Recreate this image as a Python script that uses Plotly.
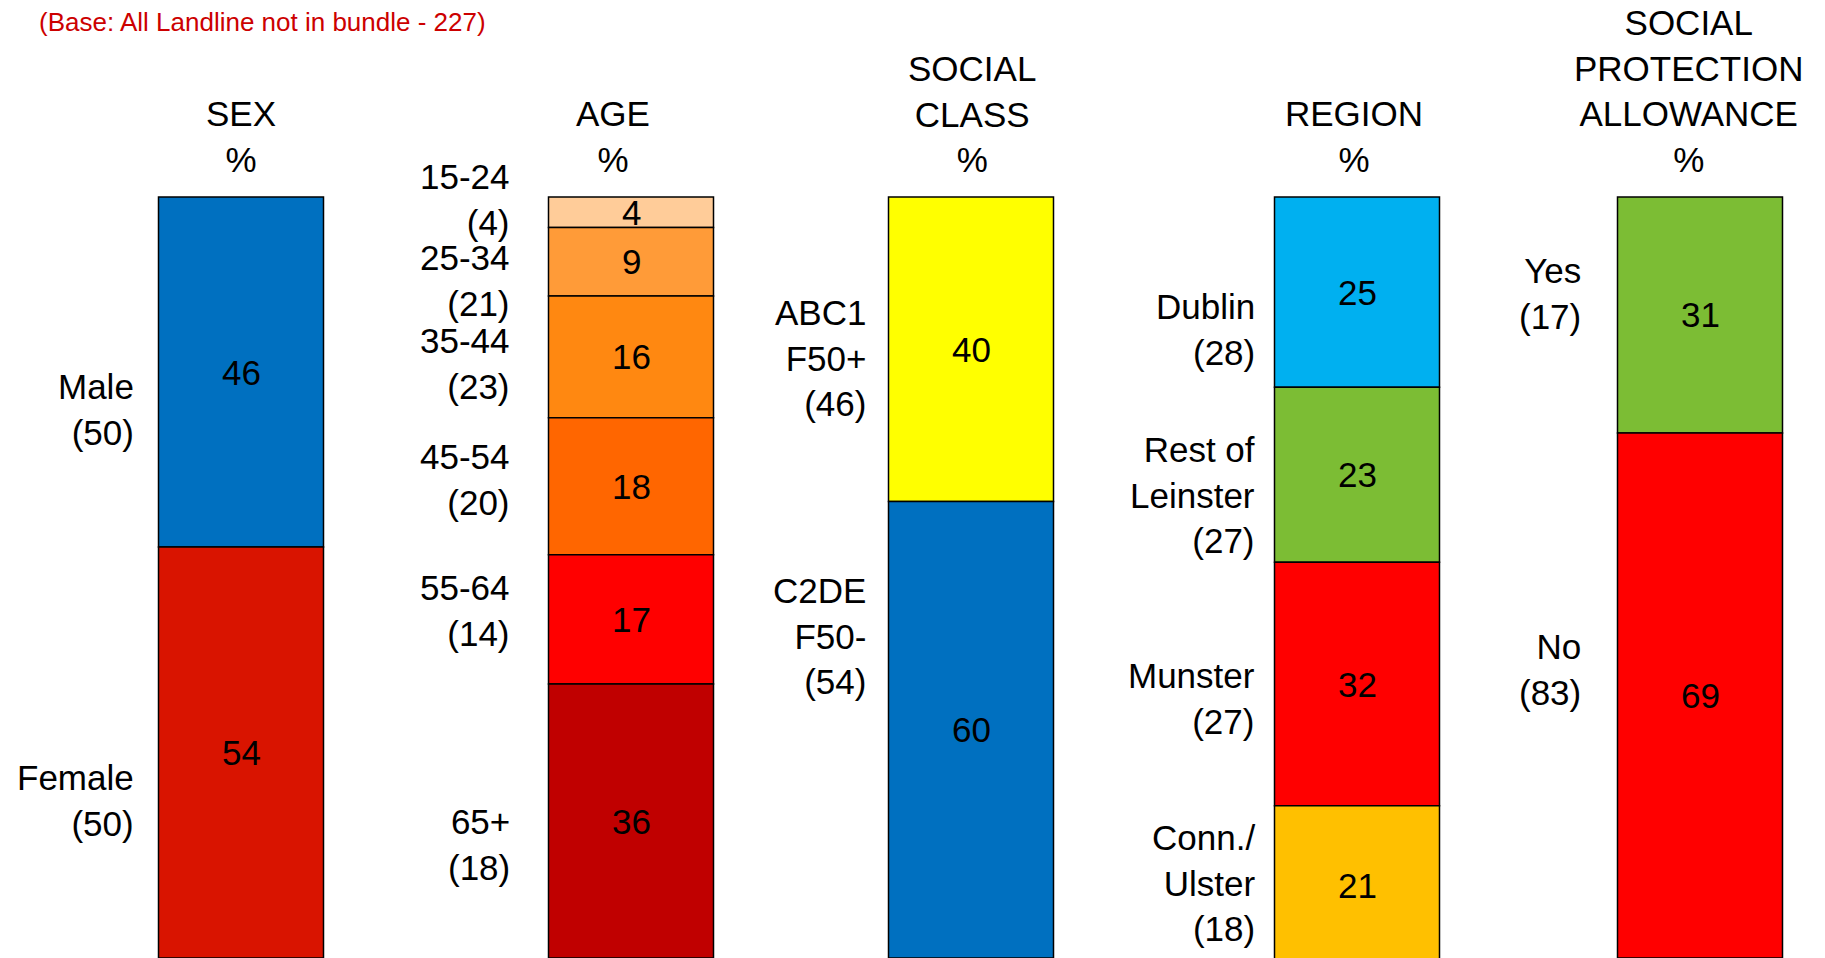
import plotly.graph_objects as go

# ---- data -------------------------------------------------------------
groups = ["SEX", "AGE", "SOCIAL\nCLASS", "REGION", "SOCIAL\nPROTECTION\nALLOWANCE"]

sex_labels = ["Male\n(50)", "Female\n(50)"]
sex_values = [46, 54]

age_labels = ["15-24\n(4)", "25-34\n(21)", "35-44\n(23)", "45-54\n(20)", "55-64\n(14)", "65+\n(18)"]
age_values = [4, 9, 16, 18, 17, 36]

class_labels = ["ABC1\nF50+\n(46)", "C2DE\nF50-\n(54)"]
class_values = [40, 60]

region_labels = ["Dublin\n(28)", "Rest of\nLeinster\n(27)", "Munster\n(27)", "Conn./\nUlster\n(18)"]
region_values = [25, 23, 32, 21]

spa_labels = ["Yes\n(17)", "No\n(83)"]
spa_values = [31, 69]

subtitle = "(Base: All Landline not in bundle - 227)"

# ---- styling -----------------------------------------------------------
colors = [
    ["#0070C0", "#D91400"],
    ["#FFCC99", "#FF9B38", "#FF8811", "#FF6600", "#FF0000", "#C00000"],
    ["#FFFF00", "#0070C0"],
    ["#00B0F0", "#7CBD34", "#FF0000", "#FFC000"],
    ["#7CBD34", "#FF0000"],
]
centers = [241, 631, 971, 1357, 1700]        # bar centres (page px)
title_x = [241, 613, 972, 1354, 1688]
label_gap = [23, 37, 21, 18, 35]             # label right edge to bar left edge
label_shift = [                               # vertical nudges of side labels (px)
    [37, 48],
    [-13, 19, 7, -7, -9, 23],
    [9, -94],
    [37, 20, 14, -3],
    [-21, -26],
]
BAR_W = 165
W, H = 1825, 958
M = 8                      # page body margin of the html file
FW, FH = W - M, H - M      # figure size so it fits the window
TOP, PX_PER_PCT = 197, 7.61
FONT = "Liberation Sans, Arial, sans-serif"


def px_x(p):
    return (p - M) / FW


def px_y(p):
    return 1 - (p - M) / FH


all_labels = [sex_labels, age_labels, class_labels, region_labels, spa_labels]
all_values = [sex_values, age_values, class_values, region_values, spa_values]

fig = go.Figure()
annotations = []

for g, (labels, values) in enumerate(zip(all_labels, all_values)):
    base = 0
    for i, (lab, val) in enumerate(zip(labels, values)):
        fig.add_trace(go.Bar(
            x=[centers[g]], y=[val], base=[base], width=BAR_W,
            marker=dict(color=colors[g][i], line=dict(color="black", width=1.5)),
            showlegend=False, hoverinfo="skip",
        ))
        mid = base + val / 2
        annotations.append(dict(
            x=centers[g], y=mid, xref="x", yref="y", text=str(val),
            showarrow=False, font=dict(size=35, color="black", family=FONT),
        ))
        annotations.append(dict(
            x=centers[g] - BAR_W / 2 - label_gap[g], y=mid, xref="x", yref="y",
            yshift=-label_shift[g][i],
            text=lab.replace("\n", "<br>"), showarrow=False, xanchor="right",
            align="right", font=dict(size=35, color="black", family=FONT),
        ))
        base += val
    annotations.append(dict(
        x=title_x[g], y=px_y(181), xref="x", yref="paper",
        text=(groups[g] + "\n%").replace("\n", "<br>"), showarrow=False,
        yanchor="bottom", align="center",
        font=dict(size=35, color="black", family=FONT),
    ))

annotations.append(dict(
    x=px_x(37), y=px_y(22), xref="paper", yref="paper", text=subtitle,
    showarrow=False, xanchor="left", yanchor="middle",
    font=dict(size=26, color="#CC0000", family=FONT),
))

fig.update_layout(
    width=FW, height=FH, margin=dict(l=0, r=0, t=0, b=0),
    paper_bgcolor="white", plot_bgcolor="white",
    barmode="overlay", annotations=annotations,
    xaxis=dict(range=[M, W], visible=False, fixedrange=True),
    yaxis=dict(range=[(H - TOP) / PX_PER_PCT, (M - TOP) / PX_PER_PCT],
               visible=False, fixedrange=True),
)

fig.write_html("out.html")
